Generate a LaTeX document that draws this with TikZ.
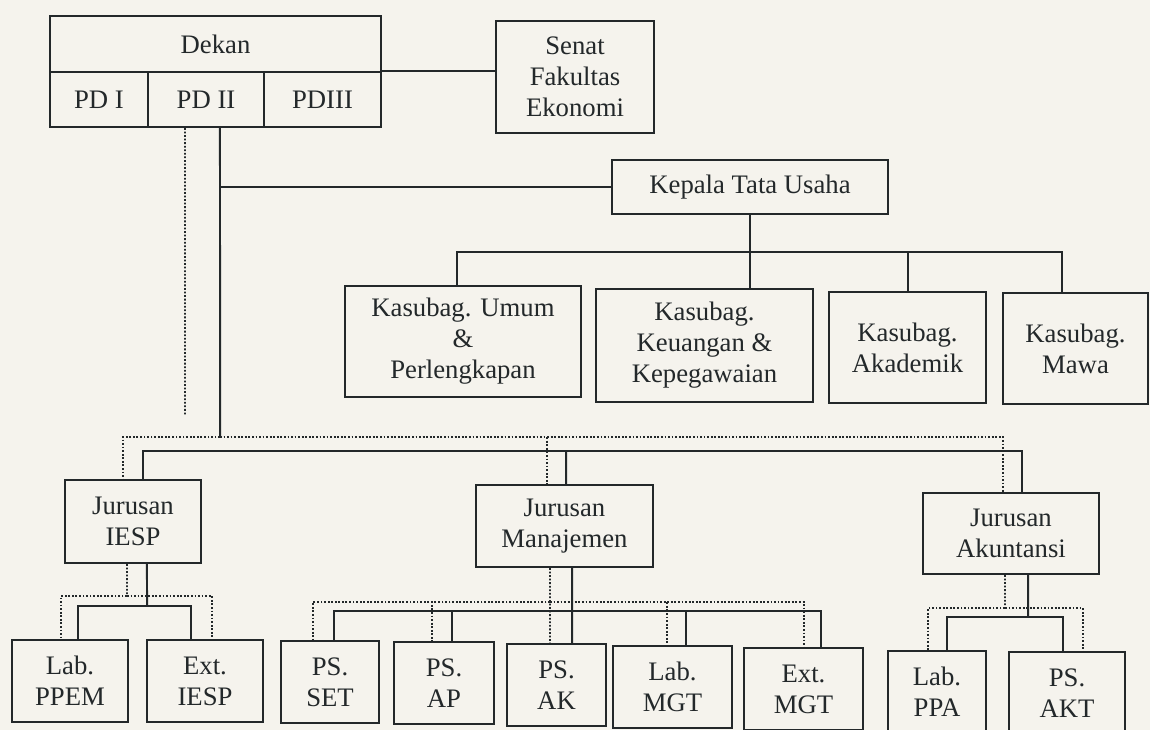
\documentclass[tikz,border=0pt]{standalone}
\usepackage{fontspec}
\setmainfont{Liberation Serif}
\usepackage{xcolor}
\usepackage{tikz}
\usetikzlibrary{positioning,calc}
\definecolor{paper}{RGB}{245,243,237}
\definecolor{ink}{RGB}{35,40,42}

\begin{document}
\begin{tikzpicture}[x=0.02cm, y=-0.02cm,
    box/.style={rectangle, draw=ink, line width=0.04cm, align=center, inner sep=1pt, text=ink, font=\fontsize{15.2}{17.6}\selectfont},
    conn/.style={draw=ink, line width=0.04cm},
    dotconn/.style={draw=ink, line width=0.036cm, densely dotted}
]
\fill[paper] (0,0) rectangle (1150,730);
\useasboundingbox (0,0) rectangle (1150,730);

% Pimpinan
\node[box, minimum width=6.62cm, minimum height=1.12cm] (dekan) at (215.5,44) {Dekan};
\node[box, minimum width=1.96cm, minimum height=1.10cm] (pdi) at (99,99.5) {PD I};
\node[box, minimum width=2.32cm, minimum height=1.10cm] (pdii) at (206,99.5) {PD II};
\node[box, minimum width=2.34cm, minimum height=1.10cm] (pdiii) at (322.5,99.5) {PDIII};
\node[box, minimum width=3.16cm, minimum height=2.24cm] (senat) at (575,77) {Senat\\Fakultas\\Ekonomi};

% Tata usaha
\node[box, minimum width=5.52cm, minimum height=1.08cm] (ktu) at (750,187) {Kepala Tata Usaha};
\node[box, minimum width=4.72cm, minimum height=2.22cm] (umum) at (463,341.5) {Kasubag. Umum\\\&\\Perlengkapan};
\node[box, minimum width=4.34cm, minimum height=2.26cm] (keu) at (704.5,345.5) {Kasubag.\\Keuangan \&\\Kepegawaian};
\node[box, minimum width=3.14cm, minimum height=2.22cm] (akad) at (907.5,347.5) {Kasubag.\\Akademik};
\node[box, minimum width=2.90cm, minimum height=2.22cm] (mawa) at (1075.5,348.5) {Kasubag.\\Mawa};

% Jurusan
\node[box, minimum width=2.72cm, minimum height=1.66cm] (iesp) at (133,521.5) {Jurusan\\IESP};
\node[box, minimum width=3.54cm, minimum height=1.64cm] (mnj) at (564.5,526) {Jurusan\\Manajemen};
\node[box, minimum width=3.52cm, minimum height=1.62cm] (akt) at (1011,533.5) {Jurusan\\Akuntansi};

% Unit di bawah jurusan
\node[box, minimum width=2.32cm, minimum height=1.64cm] (ppem) at (70,681) {Lab.\\PPEM};
\node[box, minimum width=2.32cm, minimum height=1.64cm] (extiesp) at (205,681) {Ext.\\IESP};
\node[box, minimum width=1.96cm, minimum height=1.64cm] (pset) at (330,682) {PS.\\SET};
\node[box, minimum width=2.00cm, minimum height=1.64cm] (pap) at (444,683) {PS.\\AP};
\node[box, minimum width=1.98cm, minimum height=1.64cm] (pak) at (556.5,685) {PS.\\AK};
\node[box, minimum width=2.38cm, minimum height=1.64cm] (labmgt) at (672.5,687) {Lab.\\MGT};
\node[box, minimum width=2.38cm, minimum height=1.64cm] (extmgt) at (803.5,689) {Ext.\\MGT};
\node[box, minimum width=1.96cm, minimum height=1.64cm] (labppa) at (937,692) {Lab.\\PPA};
\node[box, minimum width=2.32cm, minimum height=1.64cm] (psakt) at (1067,693) {PS.\\AKT};

% Bus points
\coordinate (dekdot) at (185,415);
\coordinate (deksol) at (220,437);
\coordinate (kbus) at (750,252);
\coordinate (bussol) at (566,451);
\coordinate (iespdot) at (127,596);
\coordinate (iespsol) at (147,606);
\coordinate (mnjdot) at (550,602);
\coordinate (mnjsol) at (572,611);
\coordinate (aktdot) at (1005,608);
\coordinate (aktsol) at (1028,617);

% Connections from Dekan
\draw[conn] (pdiii.north east) -- (pdiii.north east -| senat.west);
\draw[dotconn] ([xshift=-0.42cm]pdii.south) -- (dekdot);
\draw[conn] ([xshift=0.28cm]pdii.south) -- (deksol);
\draw[conn] (ktu.west -| deksol) -- (ktu.west);

% Tata usaha
\draw[conn] (ktu.south) -- (ktu.south |- keu.north);
\draw[conn] (kbus) -| ([xshift=-0.12cm]umum.north);
\draw[conn] (kbus) -| ([xshift=0.01cm]akad.north);
\draw[conn] (kbus) -| ([xshift=-0.27cm]mawa.north);

% Jurusan
\draw[dotconn] (deksol) -| ([xshift=-0.20cm]iesp.north);
\draw[dotconn] (deksol) -| ([xshift=-0.35cm]mnj.north);
\draw[dotconn] (deksol) -| ([xshift=-0.16cm]akt.north);
\draw[conn] (bussol) -- ([xshift=0.03cm]mnj.north);
\draw[conn] (bussol) -| ([xshift=0.20cm]iesp.north);
\draw[conn] (bussol) -| ([xshift=0.22cm]akt.north);

% IESP
\draw[dotconn] ([xshift=-0.12cm]iesp.south) -- (iespdot);
\draw[dotconn] (iespdot) -| ([xshift=-0.18cm]ppem.north);
\draw[dotconn] (iespdot) -| ([xshift=0.14cm]extiesp.north);
\draw[conn] ([xshift=0.28cm]iesp.south) -- (iespsol);
\draw[conn] (iespsol) -| ([xshift=0.16cm]ppem.north);
\draw[conn] (iespsol) -| ([xshift=-0.28cm]extiesp.north);

% Manajemen
\draw[dotconn] ([xshift=-0.29cm]mnj.south) -- ([xshift=-0.13cm]pak.north);
\draw[dotconn] (mnjdot) -| ([xshift=-0.34cm]pset.north);
\draw[dotconn] (mnjdot) -| ([xshift=-0.24cm]pap.north);
\draw[dotconn] (mnjdot) -| ([xshift=-0.11cm]labmgt.north);
\draw[dotconn] (mnjdot) -| ([xshift=0.01cm]extmgt.north);
\draw[conn] ([xshift=0.15cm]mnj.south) -- ([xshift=0.31cm]pak.north);
\draw[conn] (mnjsol) -| ([xshift=0.08cm]pset.north);
\draw[conn] (mnjsol) -| ([xshift=0.16cm]pap.north);
\draw[conn] (mnjsol) -| ([xshift=0.27cm]labmgt.north);
\draw[conn] (mnjsol) -| ([xshift=0.35cm]extmgt.north);

% Akuntansi
\draw[dotconn] ([xshift=-0.12cm]akt.south) -- (aktdot);
\draw[dotconn] (aktdot) -| ([xshift=-0.18cm]labppa.north);
\draw[dotconn] (aktdot) -| ([xshift=0.32cm]psakt.north);
\draw[conn] ([xshift=0.34cm]akt.south) -- (aktsol);
\draw[conn] (aktsol) -| ([xshift=0.20cm]labppa.north);
\draw[conn] (aktsol) -| ([xshift=-0.08cm]psakt.north);

\end{tikzpicture}
\end{document}
